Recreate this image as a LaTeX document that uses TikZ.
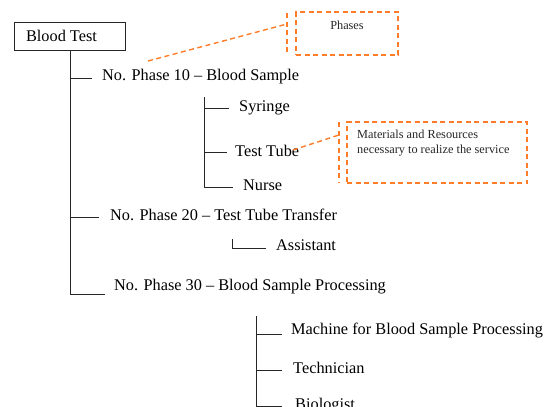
\documentclass[tikz,border=0pt]{standalone}
\usepackage{fontspec}
\setmainfont{Liberation Serif}
\definecolor{callout}{RGB}{255,125,40}
\begin{document}
\begin{tikzpicture}[x=1pt,y=-1pt,
  tree/.style={draw=black!85,line width=0.9pt},
  lbl/.style={anchor=base west,inner sep=0pt,font=\fontsize{16.3}{18}\selectfont},
  note/.style={draw=callout,dashed,dash pattern=on 5pt off 3.5pt,line width=1.4pt},
  notetext/.style={inner sep=0pt,font=\fontsize{12.3}{15}\selectfont,text=black!85}]
\useasboundingbox (0,0) rectangle (549,407);
% root
\node[draw=black!85,line width=0.9pt,minimum width=111pt,minimum height=28pt,inner sep=0pt,
  font=\fontsize{16.3}{18}\selectfont] (root) at (69.5,36) {\hspace*{-16pt}Blood Test};
\coordinate (mtop) at (70,50);
\coordinate (mbot) at (70,294);
\draw[tree] (mtop) -- (mbot) -- (105,294);
% phase 10
\node[lbl] (p10) at (102,80) {No. Phase 10 – Blood Sample};
\coordinate (b10) at (70,78);
\draw[tree] (b10) -- (92,78);
\node[lbl] (syr) at (239,111) {Syringe};
\node[lbl] (tt) at (235,156) {Test Tube};
\node[lbl] (nur) at (243,190) {Nurse};
\draw[tree] (204,97) -- (204,187) -- (233,187);
\draw[tree] (204,108) -- (229,108);
\draw[tree] (204,152) -- (227,152);
% phase 20
\node[lbl] (p20) at (110,220) {No. Phase 20 – Test Tube Transfer};
\draw[tree] (70,217) -- (99,217);
\node[lbl] (asst) at (276,250) {Assistant};
\draw[tree] (232,239) -- (232,248) -- (266,248);
% phase 30
\node[lbl] (p30) at (114,290) {No. Phase 30 – Blood Sample Processing};
\node[lbl] (mach) at (291,334) {Machine for Blood Sample Processing};
\node[lbl] (tech) at (293,373) {Technician};
\node[lbl] (bio) at (295,409) {Biologist};
\draw[tree] (256,316) -- (256,406) -- (282,406);
\draw[tree] (256,334) -- (282,334);
\draw[tree] (256,370) -- (282,370);
% callout: phases
\node[note,minimum width=102pt,minimum height=43pt,inner sep=0pt] (phbox) at (347,33.5) {};
\node[notetext,anchor=base] (phtxt) at (347,29) {Phases};
\coordinate (phl1) at (287,13);
\coordinate (phl2) at (287,55);
\draw[note] (phl1) -- (phl2);
\coordinate (phfrom) at (148,61);
\coordinate (phto) at (287,24);
\draw[note] (phfrom) -- (phto);
% callout: materials
\node[note,minimum width=180pt,minimum height=61pt,inner sep=0pt] (mbox) at (437,152.5) {};
\node[notetext,anchor=base west,align=left] (mtxt) at (357,153) {Materials and Resources\\necessary to realize the service};
\coordinate (ml1) at (339,122);
\coordinate (ml2) at (339,183);
\draw[note] (ml1) -- (ml2);
\coordinate (mfrom) at (293,150);
\coordinate (mto) at (339,135);
\draw[note] (mfrom) -- (mto);
\end{tikzpicture}
\end{document}
